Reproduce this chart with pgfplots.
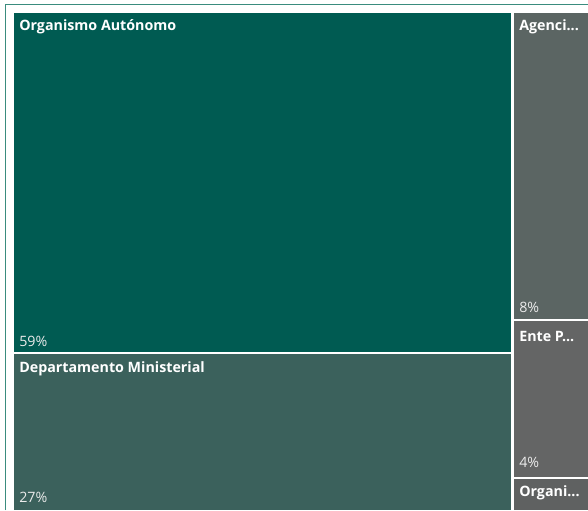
\documentclass[border=0pt]{standalone}
\usepackage{pgfplots}
\pgfplotsset{compat=1.18}
\usepackage{fontspec}
\setmainfont{Open Sans}
\definecolor{frame}{HTML}{3A8C7E}
\definecolor{cOA}{HTML}{005B52}
\definecolor{cDM}{HTML}{3B615C}
\definecolor{cAG}{HTML}{5B6563}
\definecolor{cEP}{HTML}{646565}
\definecolor{cOR}{HTML}{5F6161}
\tikzset{
  lbl/.style={anchor=west, text=white, font=\fontsize{10.7}{12}\selectfont\bfseries, inner sep=0pt},
  pct/.style={anchor=west, text=white!92!black, font=\fontsize{10.7}{12}\selectfont, inner sep=0pt},
}
\begin{document}
\begin{tikzpicture}
\begin{axis}[
  scale only axis, width=441pt, height=382.5pt,
  xmin=0, xmax=588, ymin=0, ymax=510, y dir=reverse,
  hide axis, clip=true,
]
% fondo (fija el tamano del dibujo)
\addplot[fill=white, draw=none] coordinates {(0,0) (588,0) (588,510) (0,510)} -- cycle;
% marco
\addplot[draw=frame, line width=0.75pt] coordinates {(5,510) (5,5) (588,5)};
% rectangulos del treemap (x en px, y hacia abajo)
\addplot[fill=cOA, draw=none] coordinates {(14,13) (511,13) (511,352) (14,352)} -- cycle;
\addplot[fill=cDM, draw=none] coordinates {(14,354) (511,354) (511,510) (14,510)} -- cycle;
\addplot[fill=cAG, draw=none] coordinates {(514,13) (588,13) (588,319) (514,319)} -- cycle;
\addplot[fill=cEP, draw=none] coordinates {(514,321) (588,321) (588,477) (514,477)} -- cycle;
\addplot[fill=cOR, draw=none] coordinates {(514,479) (588,479) (588,510) (514,510)} -- cycle;
% etiquetas
\node[lbl] at (axis cs:19,27) {Organismo Autónomo};
\node[pct] at (axis cs:19,341) {59\%};
\node[lbl] at (axis cs:19,369) {Departamento Ministerial};
\node[pct] at (axis cs:19,497) {27\%};
\node[lbl] at (axis cs:519,27) {Agenci...};
\node[pct] at (axis cs:519,307) {8\%};
\node[lbl] at (axis cs:519,336) {Ente P...};
\node[pct] at (axis cs:519,462) {4\%};
\node[lbl] at (axis cs:519,493) {Organi...};
\end{axis}
\end{tikzpicture}
\end{document}
